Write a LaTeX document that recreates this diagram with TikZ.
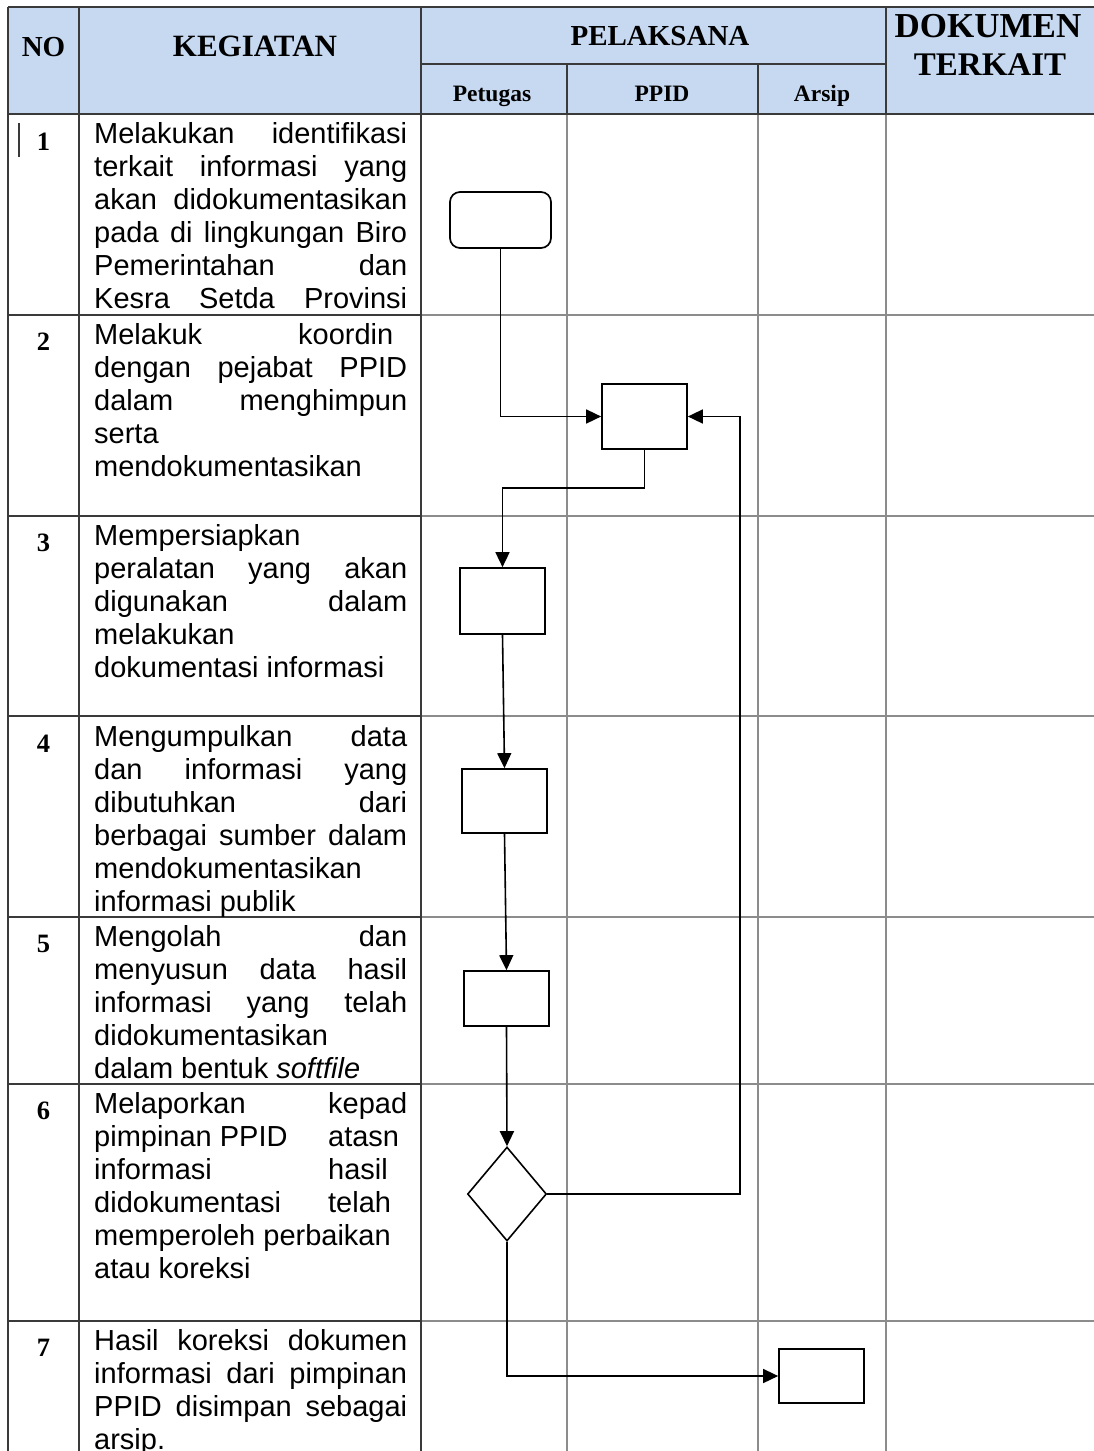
\documentclass[tikz,border=0pt]{standalone}
\usepackage{fontspec}
\setmainfont{Liberation Serif}
\newfontfamily\arialf{Liberation Sans}
\usetikzlibrary{arrows.meta,shapes.geometric}
\definecolor{hdr}{HTML}{C6D9F1}
\definecolor{dk}{HTML}{3A3A3A}
\definecolor{gr}{HTML}{8C8C8C}
\newcommand{\jline}[1]{\hbox to 313pt{#1}}
\newcommand{\pline}[1]{\hbox{#1}}
\newcommand{\rowtxt}[1]{\vtop{\baselineskip=33pt\lineskiplimit=-50pt #1}}
\begin{document}
\begin{tikzpicture}[x=1pt,y=-1pt,
  dline/.style={draw=dk,line width=1.5pt},
  gline/.style={draw=gr,line width=1.2pt},
  hd/.style={font=\bfseries\fontsize{29}{32}\selectfont, inner sep=0pt, anchor=base},
  hdk/.style={font=\bfseries\fontsize{31}{34}\selectfont, inner sep=0pt, anchor=base},
  hdw/.style={font=\bfseries\fontsize{33}{36}\selectfont, inner sep=0pt, anchor=base},
  sh/.style={font=\bfseries\fontsize{23.5}{26}\selectfont, inner sep=0pt, anchor=base},
  num/.style={font=\bfseries\fontsize{26.5}{28}\selectfont, inner sep=0pt, anchor=base},
  body/.style={font=\arialf\fontsize{29}{33}\selectfont, inner sep=0pt, anchor=base west},
  proc/.style={draw, line width=1.7pt, minimum width=85pt, minimum height=65pt, inner sep=0pt},
  startbox/.style={draw, line width=1.7pt, rounded corners=10pt, minimum width=101pt, minimum height=56pt, inner sep=0pt},
  decision/.style={draw, diamond, line width=1.6pt, minimum width=79pt, minimum height=94pt, inner sep=0pt},
  arr/.style={line width=1.6pt, -{Triangle[length=15pt,width=14pt]}}
]
\useasboundingbox (0,0) rectangle (1094,1451);
% header background
\fill[hdr] (8,7) rectangle (1094,114);
% body grid (gray part)
\foreach \yy in {315,516,716,917,1084,1321} {\draw[gline] (421,\yy) -- (1094,\yy);}
\foreach \xx in {567,758,886} {\draw[gline] (\xx,114) -- (\xx,1451);}
% dark lines
\foreach \yy in {315,516,716,917,1084,1321} {\draw[dline] (8,\yy) -- (421,\yy);}
\draw[dline] (8,7) -- (1094,7);
\draw[dline] (421,64) -- (886,64);
\draw[dline] (8,114) -- (1094,114);
\draw[dline] (8,7) -- (8,1451);
\draw[dline] (79,7) -- (79,1451);
\draw[dline] (421,7) -- (421,1451);
\draw[dline] (886,7) -- (886,114);
\draw[dline] (567,64) -- (567,114);
\draw[dline] (758,64) -- (758,114);
\draw[draw=dk,line width=1.2pt] (19,123) -- (19,157);

% header texts
\node[hd] (hno) at (43.5,56) {NO};
\node[hdk] (hkeg) at (255,56) {KEGIATAN};
\node[hd] (hpel) at (660,45) {PELAKSANA};
\node[hdw] (hdok) at (988,37) {\fontsize{35}{36}\selectfont DOKUMEN};
\node[hdw] (hter) at (990,75) {TERKAIT};
\node[sh] (hpet) at (492,101) {Petugas};
\node[sh] (hppid) at (662,101) {PPID};
\node[sh] (hars) at (822,101) {Arsip};

% numbers
\node[num] (n1) at (43.5,150) {1};
\node[num] (n2) at (43.5,350) {2};
\node[num] (n3) at (43.5,551) {3};
\node[num] (n4) at (43.5,752) {4};
\node[num] (n5) at (43.5,952) {5};
\node[num] (n6) at (43.5,1119) {6};
\node[num] (n7) at (43.5,1356) {7};

% activity texts
\node[body] (k1) at (94,143) {\rowtxt{%
  \jline{Melakukan identifikasi}
  \jline{terkait informasi yang}
  \jline{akan didokumentasikan}
  \jline{pada di lingkungan Biro}
  \jline{Pemerintahan dan}
  \jline{Kesra Setda Provinsi}}};
\node[body] (k2) at (94,344) {\rowtxt{%
  \pline{\makebox[204pt][l]{Melakuk}koordin}
  \jline{dengan pejabat PPID}
  \jline{dalam menghimpun}
  \pline{serta}
  \pline{mendokumentasikan}}};
\node[body] (k3) at (94,545) {\rowtxt{%
  \pline{Mempersiapkan}
  \jline{peralatan yang akan}
  \jline{digunakan dalam}
  \pline{melakukan}
  \pline{dokumentasi informasi}}};
\node[body] (k4) at (94,746) {\rowtxt{%
  \jline{Mengumpulkan data}
  \jline{dan informasi yang}
  \jline{dibutuhkan dari}
  \jline{berbagai sumber dalam}
  \pline{mendokumentasikan}
  \pline{informasi publik}}};
\node[body] (k5) at (94,946) {\rowtxt{%
  \jline{Mengolah dan}
  \jline{menyusun data hasil}
  \jline{informasi yang telah}
  \pline{didokumentasikan}
  \pline{dalam bentuk \textit{softfile}}}};
\node[body] (k6) at (94,1113) {\rowtxt{%
  \pline{\makebox[234pt][l]{Melaporkan}kepad}
  \pline{\makebox[234pt][l]{pimpinan PPID}atasn}
  \pline{\makebox[234pt][l]{informasi}hasil}
  \pline{\makebox[234pt][l]{didokumentasi}telah}
  \pline{memperoleh perbaikan}
  \pline{atau koreksi}}};
\node[body] (k7) at (94,1350) {\rowtxt{%
  \jline{Hasil koreksi dokumen}
  \jline{informasi dari pimpinan}
  \jline{PPID disimpan sebagai}
  \pline{arsip.}}};

% flowchart
\node[startbox] (s1) at (500.5,220) {};
\node[proc] (b2) at (644.5,416.5) {};
\node[proc, minimum height=66pt] (b3) at (502.5,601) {};
\node[proc, minimum height=64pt] (b4) at (504.5,801) {};
\node[proc, minimum height=55pt] (b5) at (506.5,998.5) {};
\node[decision] (d6) at (507,1194) {};
\node[proc, minimum height=54pt] (b7) at (821.5,1376) {};
\coordinate (ret) at (740,1194);

\draw[arr] (s1.south) |- (b2.west);
\draw[arr] (b2.south) -- ++(0,38) -| (b3.north);
\draw[arr] (b3.south) -- (b4.north);
\draw[arr] (b4.south) -- (b5.north);
\draw[arr] (b5.south) -- (d6.north);
\draw[arr] (d6.east) -- (ret) |- (b2.east);
\draw[arr] (d6.south) |- (b7.west);
\end{tikzpicture}
\end{document}
